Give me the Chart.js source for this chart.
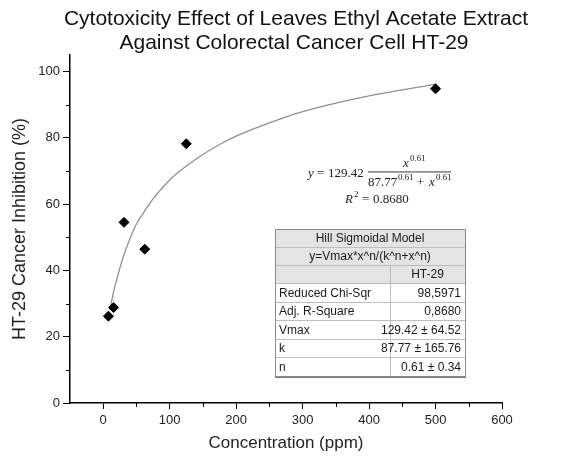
<!DOCTYPE html>
<html>
<head>
<meta charset="utf-8">
<script src="https://cdn.jsdelivr.net/npm/chart.js@4.4.0/dist/chart.umd.min.js"></script>
<style>
  html, body { margin: 0; padding: 0; background: #fff; }
  #wrap { width: 562px; height: 457px; }
</style>
</head>
<body>
<div id="wrap"><canvas id="grafico" width="562" height="457"></canvas></div>
<script>
// dados medidos (concentração em ppm, inibição em %)
var concentracoes = [7.8, 15.6, 31.25, 62.5, 125, 500];
var inibicao = [26.2, 28.8, 54.5, 46.4, 78.2, 94.8];

// curva ajustada
var curvaX = [10, 15, 20, 30, 40, 50, 62.5, 75, 100, 125, 150, 175, 200, 250, 300, 350, 400, 450, 500];
var curvaY = [28, 33, 37, 44, 49.5, 54, 58, 61.6, 67.3, 71.5, 75, 78, 80.5, 84.5, 87.9, 90.5, 92.7, 94.5, 96.2];

var tituloLinhas = ['Cytotoxicity Effect of Leaves Ethyl Acetate Extract', 'Against Colorectal Cancer Cell HT-29'];
var yMinorTicks = [10, 30, 50, 70, 90];
var xMinorTicks = [50, 150, 250, 350, 450, 550];

// tabela do ajuste
var tabelaTitulo = ['Hill Sigmoidal Model', 'y=Vmax*x^n/(k^n+x^n)'];
var tabelaColuna = 'HT-29';
var tabelaNomes = ['Reduced Chi-Sqr', 'Adj. R-Square', 'Vmax', 'k', 'n'];
var tabelaValores = ['98,5971', '0,8680', '129.42 \u00b1 64.52', '87.77 \u00b1 165.76', '0.61 \u00b1 0.34'];

var fonte = '"Liberation Sans", Arial, sans-serif';
var serifa = '"Liberation Serif", serif';

var pontos = concentracoes.map(function (x, i) { return { x: x, y: inibicao[i] }; });
var curva = curvaX.map(function (x, i) { return { x: x, y: curvaY[i] }; });

// plugin para titulo, ticks menores, equacao e tabela
var extras = {
    id: 'extras',
    afterDraw: function (chart) {
        var ctx = chart.ctx;
        var xs = chart.scales.x;
        var ys = chart.scales.y;
        ctx.save();

        // titulo
        ctx.fillStyle = '#111';
        ctx.font = '21px ' + fonte;
        ctx.textAlign = 'center';
        ctx.textBaseline = 'middle';
        ctx.fillText(tituloLinhas[0], 296, 19);
        ctx.fillText(tituloLinhas[1], 294, 43);

        // ticks menores
        ctx.strokeStyle = '#000';
        ctx.lineWidth = 1;
        ctx.beginPath();
        yMinorTicks.forEach(function (v) {
            var py = Math.round(ys.getPixelForValue(v)) + 0.5;
            ctx.moveTo(xs.left - 4, py);
            ctx.lineTo(xs.left, py);
        });
        xMinorTicks.forEach(function (v) {
            var px = Math.round(xs.getPixelForValue(v)) + 0.5;
            ctx.moveTo(px, ys.bottom);
            ctx.lineTo(px, ys.bottom + 4);
        });
        ctx.stroke();

        // equacao
        ctx.fillStyle = '#222';
        ctx.textAlign = 'left';
        ctx.textBaseline = 'alphabetic';
        ctx.font = 'italic 13px ' + serifa;
        ctx.fillText('y', 308, 177);
        ctx.font = '13px ' + serifa;
        ctx.fillText('=', 317, 177);
        ctx.fillText('129.42', 328, 177);
        // numerador
        ctx.font = 'italic 13px ' + serifa;
        ctx.fillText('x', 403, 167);
        ctx.font = '9px ' + serifa;
        ctx.fillText('0.61', 410, 161);
        // barra
        ctx.fillRect(368, 171.5, 83, 0.9);
        // denominador
        ctx.font = '13px ' + serifa;
        ctx.fillText('87.77', 368, 186);
        ctx.font = '9px ' + serifa;
        ctx.fillText('0.61', 398, 180);
        ctx.font = '13px ' + serifa;
        ctx.fillText('+', 417, 186);
        ctx.font = 'italic 13px ' + serifa;
        ctx.fillText('x', 429, 186);
        ctx.font = '9px ' + serifa;
        ctx.fillText('0.61', 436, 180);
        // R2
        ctx.font = 'italic 13px ' + serifa;
        ctx.fillText('R', 345, 203);
        ctx.font = '9px ' + serifa;
        ctx.fillText('2', 354, 197);
        ctx.font = '13px ' + serifa;
        ctx.fillText('=', 362, 203);
        ctx.fillText('0.8680', 373, 203);

        // tabela
        var tx0 = 275, tx1 = 390, tx2 = 465;
        var linhas = [229, 247, 265, 283, 301.6, 320.2, 338.8, 357.4, 376];
        ctx.fillStyle = '#fff';
        ctx.fillRect(tx0, linhas[0], tx2 - tx0, linhas[8] - linhas[0]);
        ctx.fillStyle = '#e4e4e4';
        ctx.fillRect(tx0, linhas[0], tx2 - tx0, linhas[3] - linhas[0]);
        ctx.strokeStyle = '#bdbdbd';
        ctx.lineWidth = 1;
        ctx.beginPath();
        for (var i = 1; i < 8; i++) {
            ctx.moveTo(tx0, Math.round(linhas[i]) + 0.5);
            ctx.lineTo(tx2, Math.round(linhas[i]) + 0.5);
        }
        ctx.moveTo(tx1 + 0.5, linhas[2]);
        ctx.lineTo(tx1 + 0.5, linhas[8]);
        ctx.stroke();
        ctx.strokeStyle = '#8c8c8c';
        ctx.strokeRect(tx0 + 0.5, linhas[0] + 0.5, tx2 - tx0, linhas[8] - linhas[0]);
        ctx.strokeStyle = '#777';
        ctx.beginPath();
        ctx.moveTo(tx0, linhas[8] + 1.5);
        ctx.lineTo(tx2 + 1, linhas[8] + 1.5);
        ctx.stroke();

        ctx.fillStyle = '#1a1a1a';
        ctx.font = '12px ' + fonte;
        ctx.textBaseline = 'middle';
        ctx.textAlign = 'center';
        ctx.fillText(tabelaTitulo[0], (tx0 + tx2) / 2, (linhas[0] + linhas[1]) / 2 + 1);
        ctx.fillText(tabelaTitulo[1], (tx0 + tx2) / 2, (linhas[1] + linhas[2]) / 2 + 1);
        ctx.fillText(tabelaColuna, (tx1 + tx2) / 2, (linhas[2] + linhas[3]) / 2 + 1);
        tabelaNomes.forEach(function (nome, i) {
            var cy = (linhas[3 + i] + linhas[4 + i]) / 2 + 1;
            ctx.textAlign = 'left';
            ctx.fillText(nome, tx0 + 4, cy);
            ctx.textAlign = 'right';
            ctx.fillText(tabelaValores[i], tx2 - 4, cy);
        });

        ctx.restore();
    }
};

var ctx = document.getElementById('grafico').getContext('2d');
var grafico = new Chart(ctx, {
    type: 'scatter',
    data: {
        datasets: [
            {
                label: 'Ajuste',
                data: curva,
                showLine: true,
                borderColor: '#8f8f8f',
                borderWidth: 1.3,
                pointRadius: 0,
                cubicInterpolationMode: 'monotone',
                order: 2
            },
            {
                label: 'HT-29',
                data: pontos,
                pointStyle: 'rectRot',
                pointRadius: 5,
                backgroundColor: '#000',
                borderColor: '#000',
                borderWidth: 1,
                order: 1
            }
        ]
    },
    options: {
        responsive: false,
        animation: false,
        layout: { padding: { top: 55, right: 60, left: 0, bottom: 0 } },
        plugins: {
            legend: { display: false },
            tooltip: { enabled: false },
            title: { display: false }
        },
        scales: {
            x: {
                type: 'linear',
                min: -50,
                max: 600,
                afterFit: function (scale) { scale.height = 54; },
                ticks: {
                    stepSize: 50,
                    autoSkip: false,
                    maxRotation: 0,
                    padding: 4,
                    color: '#222',
                    font: { size: 13, family: fonte },
                    callback: function (v) { return v % 100 === 0 ? v : ''; }
                },
                grid: {
                    drawOnChartArea: false,
                    tickLength: 6,
                    tickColor: function (c) { return c.tick && c.tick.value % 100 === 0 ? '#000' : 'rgba(0,0,0,0)'; }
                },
                border: { color: '#000', width: 1.5 },
                title: {
                    display: true,
                    text: 'Concentration (ppm)',
                    color: '#222',
                    font: { size: 17, family: fonte },
                    padding: { top: 0, bottom: 3 }
                }
            },
            y: {
                min: 0,
                max: 105,
                afterFit: function (scale) { scale.width = 70; },
                ticks: {
                    stepSize: 10,
                    autoSkip: false,
                    padding: 3,
                    color: '#222',
                    font: { size: 13, family: fonte },
                    callback: function (v) { return v % 20 === 0 ? v : ''; }
                },
                grid: {
                    drawOnChartArea: false,
                    tickLength: 7,
                    tickColor: function (c) { return c.tick && c.tick.value % 20 === 0 ? '#000' : 'rgba(0,0,0,0)'; }
                },
                border: { color: '#000', width: 1.5 },
                title: {
                    display: true,
                    text: 'HT-29 Cancer Inhibition (%)',
                    color: '#222',
                    font: { size: 18, family: fonte },
                    padding: { top: 9, bottom: 0 }
                }
            }
        }
    },
    plugins: [extras]
});
</script>
</body>
</html>
